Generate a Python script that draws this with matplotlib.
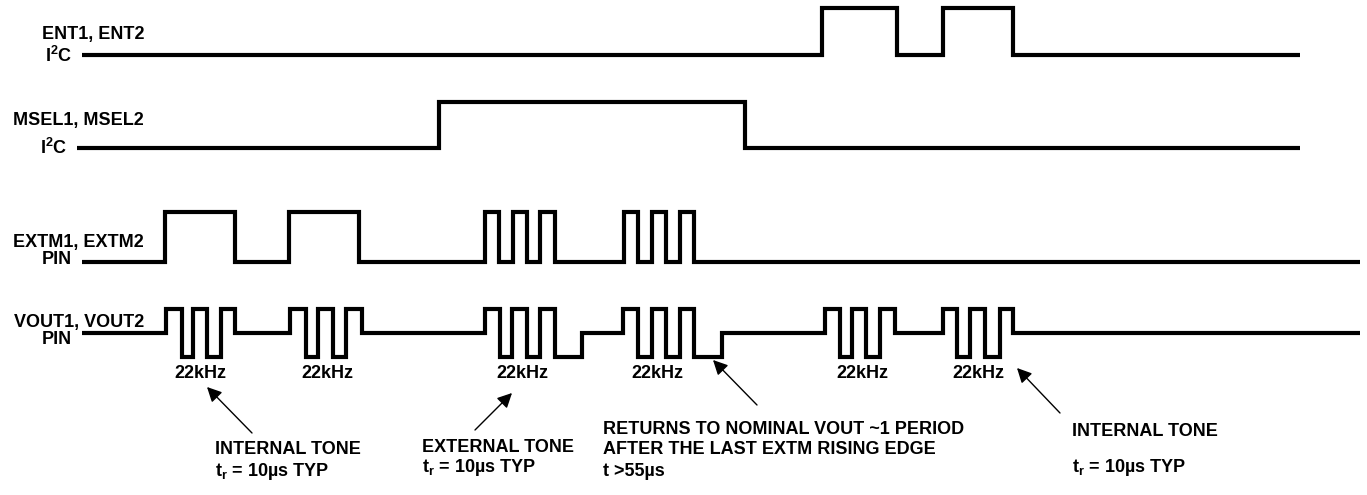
import matplotlib.pyplot as plt

plt.rcParams['font.family'] = ['Liberation Sans', 'DejaVu Sans']
plt.rcParams['font.weight'] = 'bold'
plt.rcParams['mathtext.fontset'] = 'custom'
plt.rcParams['mathtext.rm'] = 'Liberation Sans:bold'
plt.rcParams['mathtext.bf'] = 'Liberation Sans:bold'
plt.rcParams['mathtext.it'] = 'Liberation Sans:bold'

# edge times and the level after each edge (0 = idle, 1 = high, -1 = low)
ent_t = [82, 822, 897, 943, 1013, 1300]
ent_lv = [0, 1, 0, 1, 0, 0]

msel_t = [77, 439, 745, 1300]
msel_lv = [0, 1, 0, 0]

extm_t = [82, 165, 235, 289, 359,
          485, 499, 513, 527, 540, 555,
          624, 638, 652, 666, 680, 694, 1360]
extm_lv = [0, 1, 0, 1, 0,
           1, 0, 1, 0, 1, 0,
           1, 0, 1, 0, 1, 0, 0]

vout_t = [82, 166, 182, 193, 207, 221, 235,
          290, 306, 318, 333, 346, 362,
          485, 500, 512, 527, 540, 555, 582,
          623, 638, 652, 666, 680, 694, 722,
          825, 840, 852, 866, 880, 895,
          943, 957, 970, 985, 1000, 1013, 1360]
vout_lv = [0, 1, -1, 1, -1, 1, 0,
           1, -1, 1, -1, 1, 0,
           1, -1, 1, -1, 1, -1, 0,
           1, -1, 1, -1, 1, -1, 0,
           1, -1, 1, -1, 1, 0,
           1, -1, 1, -1, 1, 0, 0]

tone_x = [200, 327, 522, 657, 862, 978]
tone_label = '22kHz'

row_names = ['ENT1, ENT2', 'MSEL1, MSEL2', 'EXTM1, EXTM2', 'VOUT1, VOUT2']
row_sub = [r'I$^2$C', r'I$^2$C', 'PIN', 'PIN']

fig = plt.figure(figsize=(13.67, 4.95), dpi=100)
ax = fig.add_axes([0, 0, 1, 1])
ax.set_xlim(0, 1367)
ax.set_ylim(495, 0)
ax.axis('off')

# (baseline y, half-swing) for each row
rows = [(55, 47), (148, 46), (262, 50), (333, 24)]
signals = [(ent_t, ent_lv), (msel_t, msel_lv), (extm_t, extm_lv), (vout_t, vout_lv)]

for (t, lv), (y0, amp) in zip(signals, rows):
    ys = [y0 - amp * v for v in lv]
    ax.step(t, ys, where='post', color='black', lw=3, solid_joinstyle='miter',
            solid_capstyle='butt')

fs = 13
name_y = [35, 121, 243, 322]
sub_y = [56, 148, 259, 339]
sub_x = [72, 67, 72, 72]
for i in range(4):
    ax.text(144, name_y[i], row_names[i], ha='right', va='center', fontsize=fs,
            fontweight='bold')
    ax.text(sub_x[i], sub_y[i], row_sub[i], ha='right', va='center', fontsize=fs,
            fontweight='bold')

for x in tone_x:
    ax.text(x, 373, tone_label, ha='center', va='center', fontsize=fs, fontweight='bold')

arrows = [((252, 433), (207, 387)),
          ((475, 430), (512, 393)),
          ((757, 405), (713, 360)),
          ((1060, 413), (1017, 368))]
for tail, head in arrows:
    ax.annotate('', xy=head, xytext=tail,
                arrowprops=dict(arrowstyle='-|>', color='black', lw=1,
                                mutation_scale=22, shrinkA=0, shrinkB=0))

tr = r'$\mathregular{t_r}$ = 10µs TYP'
notes = [(215, 450, 'INTERNAL TONE'), (215, 471, tr),
         (422, 447, 'EXTERNAL TONE'), (422, 468, tr),
         (603, 430, 'RETURNS TO NOMINAL VOUT ~1 PERIOD'),
         (603, 450, 'AFTER THE LAST EXTM RISING EDGE'),
         (603, 471, 't >55µs'),
         (1072, 432, 'INTERNAL TONE'), (1072, 468, tr)]
for x, y, s in notes:
    ax.text(x, y, s, ha='left', va='center', fontsize=fs, fontweight='bold')

fig.savefig('out.png', dpi=100)
